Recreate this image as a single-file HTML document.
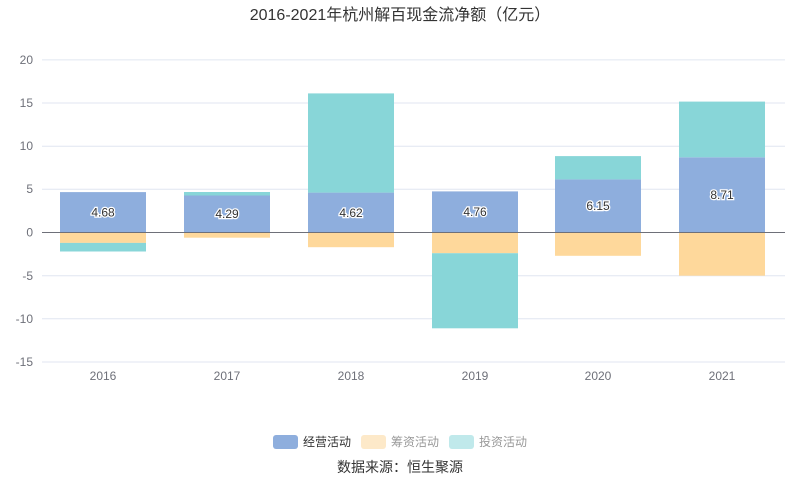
<!DOCTYPE html>
<html><head><meta charset="utf-8"><style>
html,body{margin:0;padding:0;background:#fff;}
svg{display:block;font-family:"Liberation Sans","Noto Sans CJK SC",sans-serif;}
</style></head><body>
<svg width="800" height="501" viewBox="0 0 800 501">
<text x="400" y="20" text-anchor="middle" font-size="16" fill="#333">2016-2021年杭州解百现金流净额（亿元）</text>
<g stroke="#e0e6f1" stroke-width="1">
<line x1="42" x2="785" y1="59.9" y2="59.9"/>
<line x1="42" x2="785" y1="103.0" y2="103.0"/>
<line x1="42" x2="785" y1="146.2" y2="146.2"/>
<line x1="42" x2="785" y1="189.3" y2="189.3"/>
<line x1="42" x2="785" y1="275.7" y2="275.7"/>
<line x1="42" x2="785" y1="318.8" y2="318.8"/>
<line x1="42" x2="785" y1="362" y2="362"/>
</g>
<g font-size="12" fill="#6e7079" text-anchor="end">
<text x="33" y="64">20</text><text x="33" y="107">15</text><text x="33" y="150">10</text>
<text x="33" y="193">5</text><text x="33" y="236.5">0</text><text x="33" y="280">-5</text>
<text x="33" y="323">-10</text><text x="33" y="366">-15</text>
</g>
<g font-size="12" fill="#6e7079" text-anchor="middle">
<text x="103" y="380">2016</text><text x="227" y="380">2017</text><text x="351" y="380">2018</text>
<text x="475" y="380">2019</text><text x="598" y="380">2020</text><text x="722" y="380">2021</text>
</g>
<g>
<!-- 2016 -->
<rect x="60" y="192.1" width="86" height="40.4" fill="#8eaedd"/>
<rect x="60" y="232.5" width="86" height="10.4" fill="#fed89b"/>
<rect x="60" y="242.9" width="86" height="8.6" fill="#88d6d8"/>
<!-- 2017 -->
<rect x="184" y="195.5" width="86" height="37" fill="#8eaedd"/>
<rect x="184" y="232.5" width="86" height="5.2" fill="#fed89b"/>
<rect x="184" y="192" width="86" height="3.5" fill="#88d6d8"/>
<!-- 2018 -->
<rect x="308" y="192.6" width="86" height="39.9" fill="#8eaedd"/>
<rect x="308" y="232.5" width="86" height="14.7" fill="#fed89b"/>
<rect x="308" y="93.4" width="86" height="99.2" fill="#88d6d8"/>
<!-- 2019 -->
<rect x="432" y="191.4" width="86" height="41.1" fill="#8eaedd"/>
<rect x="432" y="232.5" width="86" height="20.7" fill="#fed89b"/>
<rect x="432" y="253.2" width="86" height="75.1" fill="#88d6d8"/>
<!-- 2020 -->
<rect x="555" y="179.4" width="86" height="53.1" fill="#8eaedd"/>
<rect x="555" y="232.5" width="86" height="23.3" fill="#fed89b"/>
<rect x="555" y="156.1" width="86" height="23.3" fill="#88d6d8"/>
<!-- 2021 -->
<rect x="679" y="157.3" width="86" height="75.2" fill="#8eaedd"/>
<rect x="679" y="232.5" width="86" height="43.2" fill="#fed89b"/>
<rect x="679" y="101.6" width="86" height="55.7" fill="#88d6d8"/>
</g>
<line x1="42" x2="785" y1="232.5" y2="232.5" stroke="#6e7079" stroke-width="1"/>
<g font-size="12" fill="#333" stroke="#fff" stroke-width="2.5" paint-order="stroke" text-anchor="middle">
<text x="103" y="216.5">4.68</text>
<text x="227" y="218.2">4.29</text>
<text x="351" y="216.8">4.62</text>
<text x="475" y="216.2">4.76</text>
<text x="598" y="210.2">6.15</text>
<text x="722" y="199.2">8.71</text>
</g>
<rect x="273" y="435" width="25" height="14" rx="3" fill="#8eaedd"/>
<text x="303" y="446" font-size="12" fill="#333">经营活动</text>
<rect x="361" y="435" width="25" height="14" rx="3" fill="#fde9c9"/>
<text x="391" y="446" font-size="12" fill="#999">筹资活动</text>
<rect x="449" y="435" width="25" height="14" rx="3" fill="#c0e9eb"/>
<text x="479" y="446" font-size="12" fill="#999">投资活动</text>
<text x="400" y="472" font-size="14" fill="#333" text-anchor="middle">数据来源：恒生聚源</text>
</svg>
</body></html>
